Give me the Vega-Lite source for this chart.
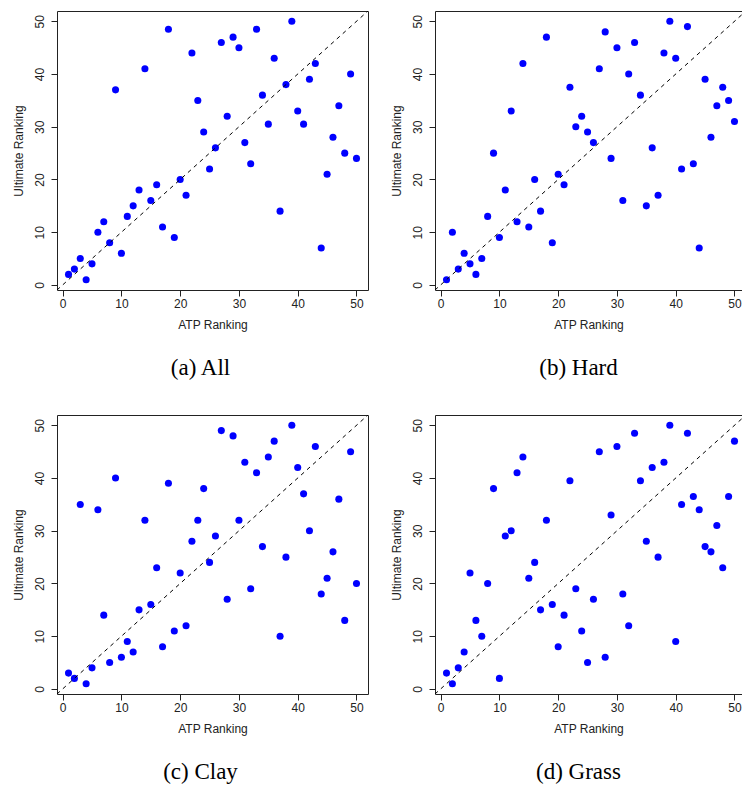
{
  "$schema": "https://vega.github.io/schema/vega-lite/v6.json",
  "padding": {"left": 11, "top": 10, "right": 0, "bottom": 0},
  "datasets": {
    "diag": [{"x": -3, "y": -3}, {"x": 55, "y": 55}],
    "all": [
      {"x":1,"y":2},{"x":2,"y":3},{"x":3,"y":5},{"x":4,"y":1},{"x":5,"y":4},{"x":6,"y":10},{"x":7,"y":12},{"x":8,"y":8},{"x":9,"y":37},{"x":10,"y":6},
      {"x":11,"y":13},{"x":12,"y":15},{"x":13,"y":18},{"x":14,"y":41},{"x":15,"y":16},{"x":16,"y":19},{"x":17,"y":11},{"x":18,"y":48.5},{"x":19,"y":9},{"x":20,"y":20},
      {"x":21,"y":17},{"x":22,"y":44},{"x":23,"y":35},{"x":24,"y":29},{"x":25,"y":22},{"x":26,"y":26},{"x":27,"y":46},{"x":28,"y":32},{"x":29,"y":47},{"x":30,"y":45},
      {"x":31,"y":27},{"x":32,"y":23},{"x":33,"y":48.5},{"x":34,"y":36},{"x":35,"y":30.5},{"x":36,"y":43},{"x":37,"y":14},{"x":38,"y":38},{"x":39,"y":50},{"x":40,"y":33},
      {"x":41,"y":30.5},{"x":42,"y":39},{"x":43,"y":42},{"x":44,"y":7},{"x":45,"y":21},{"x":46,"y":28},{"x":47,"y":34},{"x":48,"y":25},{"x":49,"y":40},{"x":50,"y":24}
    ],
    "hard": [
      {"x":1,"y":1},{"x":2,"y":10},{"x":3,"y":3},{"x":4,"y":6},{"x":5,"y":4},{"x":6,"y":2},{"x":7,"y":5},{"x":8,"y":13},{"x":9,"y":25},{"x":10,"y":9},
      {"x":11,"y":18},{"x":12,"y":33},{"x":13,"y":12},{"x":14,"y":42},{"x":15,"y":11},{"x":16,"y":20},{"x":17,"y":14},{"x":18,"y":47},{"x":19,"y":8},{"x":20,"y":21},
      {"x":21,"y":19},{"x":22,"y":37.5},{"x":23,"y":30},{"x":24,"y":32},{"x":25,"y":29},{"x":26,"y":27},{"x":27,"y":41},{"x":28,"y":48},{"x":29,"y":24},{"x":30,"y":45},
      {"x":31,"y":16},{"x":32,"y":40},{"x":33,"y":46},{"x":34,"y":36},{"x":35,"y":15},{"x":36,"y":26},{"x":37,"y":17},{"x":38,"y":44},{"x":39,"y":50},{"x":40,"y":43},
      {"x":41,"y":22},{"x":42,"y":49},{"x":43,"y":23},{"x":44,"y":7},{"x":45,"y":39},{"x":46,"y":28},{"x":47,"y":34},{"x":48,"y":37.5},{"x":49,"y":35},{"x":50,"y":31}
    ],
    "clay": [
      {"x":1,"y":3},{"x":2,"y":2},{"x":3,"y":35},{"x":4,"y":1},{"x":5,"y":4},{"x":6,"y":34},{"x":7,"y":14},{"x":8,"y":5},{"x":9,"y":40},{"x":10,"y":6},
      {"x":11,"y":9},{"x":12,"y":7},{"x":13,"y":15},{"x":14,"y":32},{"x":15,"y":16},{"x":16,"y":23},{"x":17,"y":8},{"x":18,"y":39},{"x":19,"y":11},{"x":20,"y":22},
      {"x":21,"y":12},{"x":22,"y":28},{"x":23,"y":32},{"x":24,"y":38},{"x":25,"y":24},{"x":26,"y":29},{"x":27,"y":49},{"x":28,"y":17},{"x":29,"y":48},{"x":30,"y":32},
      {"x":31,"y":43},{"x":32,"y":19},{"x":33,"y":41},{"x":34,"y":27},{"x":35,"y":44},{"x":36,"y":47},{"x":37,"y":10},{"x":38,"y":25},{"x":39,"y":50},{"x":40,"y":42},
      {"x":41,"y":37},{"x":42,"y":30},{"x":43,"y":46},{"x":44,"y":18},{"x":45,"y":21},{"x":46,"y":26},{"x":47,"y":36},{"x":48,"y":13},{"x":49,"y":45},{"x":50,"y":20}
    ],
    "grass": [
      {"x":1,"y":3},{"x":2,"y":1},{"x":3,"y":4},{"x":4,"y":7},{"x":5,"y":22},{"x":6,"y":13},{"x":7,"y":10},{"x":8,"y":20},{"x":9,"y":38},{"x":10,"y":2},
      {"x":11,"y":29},{"x":12,"y":30},{"x":13,"y":41},{"x":14,"y":44},{"x":15,"y":21},{"x":16,"y":24},{"x":17,"y":15},{"x":18,"y":32},{"x":19,"y":16},{"x":20,"y":8},
      {"x":21,"y":14},{"x":22,"y":39.5},{"x":23,"y":19},{"x":24,"y":11},{"x":25,"y":5},{"x":26,"y":17},{"x":27,"y":45},{"x":28,"y":6},{"x":29,"y":33},{"x":30,"y":46},
      {"x":31,"y":18},{"x":32,"y":12},{"x":33,"y":48.5},{"x":34,"y":39.5},{"x":35,"y":28},{"x":36,"y":42},{"x":37,"y":25},{"x":38,"y":43},{"x":39,"y":50},{"x":40,"y":9},
      {"x":41,"y":35},{"x":42,"y":48.5},{"x":43,"y":36.5},{"x":44,"y":34},{"x":45,"y":27},{"x":46,"y":26},{"x":47,"y":31},{"x":48,"y":23},{"x":49,"y":36.5},{"x":50,"y":47}
    ]
  },
  "columns": 2,
  "spacing": {"row": 125, "column": 67},
  "bounds": "flush",
  "concat": [
    {
      "width": 311, "height": 279,
      "title": {"text": "(a) All", "orient": "bottom", "font": "Liberation Serif", "fontSize": 23, "fontWeight": "normal", "color": "black", "offset": 27, "dx": -12, "anchor": "middle"},
      "layer": [
        {"data": {"name": "all"}, "mark": {"type": "circle", "color": "#0000ff", "opacity": 1, "size": 50},
         "encoding": {"x": {"field": "x", "type": "quantitative", "scale": {"domain": [-0.96, 51.96], "nice": false, "zero": false}, "axis": {"title": "ATP Ranking", "values": [0,10,20,30,40,50]}},
                      "y": {"field": "y", "type": "quantitative", "scale": {"domain": [-0.96, 51.96], "nice": false, "zero": false}, "axis": {"title": "Ultimate Ranking", "values": [0,10,20,30,40,50]}}}},
        {"data": {"name": "diag"}, "mark": {"type": "line", "color": "black", "strokeDash": [4, 4], "strokeWidth": 1, "clip": true},
         "encoding": {"x": {"field": "x", "type": "quantitative"}, "y": {"field": "y", "type": "quantitative"}}}
      ]
    },
    {
      "width": 307, "height": 279,
      "title": {"text": "(b) Hard", "orient": "bottom", "font": "Liberation Serif", "fontSize": 23, "fontWeight": "normal", "color": "black", "offset": 27, "dx": -10, "anchor": "middle"},
      "layer": [
        {"data": {"name": "hard"}, "mark": {"type": "circle", "color": "#0000ff", "opacity": 1, "size": 50},
         "encoding": {"x": {"field": "x", "type": "quantitative", "scale": {"domain": [-0.96, 51.28], "nice": false, "zero": false}, "axis": {"title": "ATP Ranking", "values": [0,10,20,30,40,50]}},
                      "y": {"field": "y", "type": "quantitative", "scale": {"domain": [-0.96, 51.96], "nice": false, "zero": false}, "axis": {"title": "Ultimate Ranking", "values": [0,10,20,30,40,50]}}}},
        {"data": {"name": "diag"}, "mark": {"type": "line", "color": "black", "strokeDash": [4, 4], "strokeWidth": 1, "clip": true},
         "encoding": {"x": {"field": "x", "type": "quantitative"}, "y": {"field": "y", "type": "quantitative"}}}
      ]
    },
    {
      "width": 311, "height": 279,
      "title": {"text": "(c) Clay", "orient": "bottom", "font": "Liberation Serif", "fontSize": 23, "fontWeight": "normal", "color": "black", "offset": 27, "dx": -12, "anchor": "middle"},
      "layer": [
        {"data": {"name": "clay"}, "mark": {"type": "circle", "color": "#0000ff", "opacity": 1, "size": 50},
         "encoding": {"x": {"field": "x", "type": "quantitative", "scale": {"domain": [-0.96, 51.96], "nice": false, "zero": false}, "axis": {"title": "ATP Ranking", "values": [0,10,20,30,40,50]}},
                      "y": {"field": "y", "type": "quantitative", "scale": {"domain": [-0.96, 51.96], "nice": false, "zero": false}, "axis": {"title": "Ultimate Ranking", "values": [0,10,20,30,40,50]}}}},
        {"data": {"name": "diag"}, "mark": {"type": "line", "color": "black", "strokeDash": [4, 4], "strokeWidth": 1, "clip": true},
         "encoding": {"x": {"field": "x", "type": "quantitative"}, "y": {"field": "y", "type": "quantitative"}}}
      ]
    },
    {
      "width": 307, "height": 279,
      "title": {"text": "(d) Grass", "orient": "bottom", "font": "Liberation Serif", "fontSize": 23, "fontWeight": "normal", "color": "black", "offset": 27, "dx": -10, "anchor": "middle"},
      "layer": [
        {"data": {"name": "grass"}, "mark": {"type": "circle", "color": "#0000ff", "opacity": 1, "size": 50},
         "encoding": {"x": {"field": "x", "type": "quantitative", "scale": {"domain": [-0.96, 51.28], "nice": false, "zero": false}, "axis": {"title": "ATP Ranking", "values": [0,10,20,30,40,50]}},
                      "y": {"field": "y", "type": "quantitative", "scale": {"domain": [-0.96, 51.96], "nice": false, "zero": false}, "axis": {"title": "Ultimate Ranking", "values": [0,10,20,30,40,50]}}}},
        {"data": {"name": "diag"}, "mark": {"type": "line", "color": "black", "strokeDash": [4, 4], "strokeWidth": 1, "clip": true},
         "encoding": {"x": {"field": "x", "type": "quantitative"}, "y": {"field": "y", "type": "quantitative"}}}
      ]
    }
  ],
  "config": {
    "font": "Liberation Sans",
    "view": {"stroke": "#222222", "strokeWidth": 1},
    "axis": {"grid": false, "domain": false, "tickColor": "#222222", "tickSize": 6, "labelFont": "Liberation Sans", "labelFontSize": 12, "labelColor": "#222222", "labelFlush": false, "labelOverlap": false, "titleFont": "Liberation Sans", "titleFontSize": 12, "titleFontWeight": "normal", "titleColor": "#222222"},
    "axisX": {"labelPadding": 2, "titlePadding": 10},
    "axisY": {"labelAngle": -90, "labelAlign": "center", "labelBaseline": "bottom", "labelPadding": 5, "titlePadding": 8}
  }
}
